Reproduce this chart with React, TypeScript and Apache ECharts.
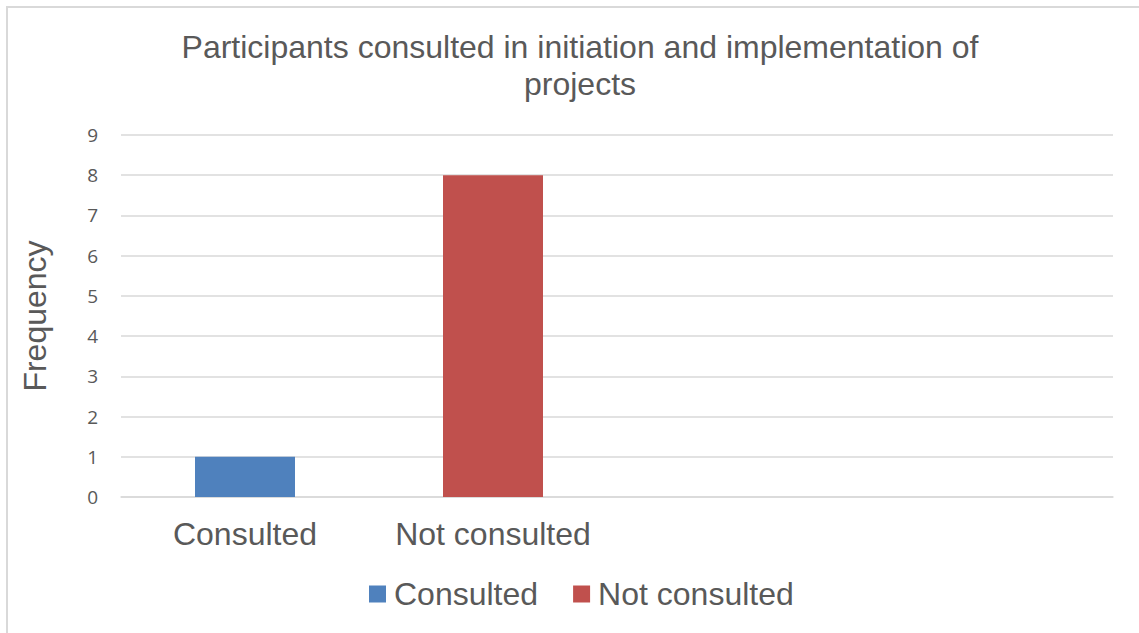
import React, { useEffect, useRef } from "react";
import * as echarts from "echarts";

const categories = ["Consulted", "Not consulted", "", ""];
const consultedValues = [1, null, null, null];
const notConsultedValues = [null, 8, null, null];
const yTicks = { min: 0, max: 9, interval: 1 };
const titleText = "Participants consulted in initiation and implementation of\nprojects";
const yAxisName = "Frequency";

const TEXT = "#595959";
const GRID = "#d9d9d9";
const FONT = "'Liberation Sans', Arial, sans-serif";

export default function App() {
  const ref = useRef<HTMLDivElement>(null);
  useEffect(() => {
    if (!ref.current) return;
    const chart = echarts.init(ref.current, null, { renderer: "svg" });
    chart.setOption({
      animation: false,
      backgroundColor: "#ffffff",
      title: {
        text: titleText,
        left: 575,
        top: 23,
        textAlign: "center",
        textStyle: {
          fontFamily: FONT,
          fontSize: 32,
          fontWeight: "normal",
          color: TEXT,
          lineHeight: 37,
        },
      },
      graphic: [
        {
          type: "rect",
          shape: { x: 7, y: 7, width: 1200, height: 700 },
          style: { fill: "none", stroke: GRID, lineWidth: 2 },
          silent: true,
        },
      ],
      legend: {
        left: 369,
        top: 578,
        padding: 0,
        itemWidth: 17,
        itemHeight: 17,
        itemGap: 35,
        icon: "rect",
        textStyle: {
          fontFamily: FONT,
          fontSize: 32,
          color: TEXT,
          padding: [0, 0, 0, 3],
        },
        data: ["Consulted", "Not consulted"],
      },
      grid: { left: 121, right: 26, top: 135, bottom: 136 },
      xAxis: {
        type: "category",
        data: categories,
        axisLine: { show: true, lineStyle: { color: GRID, width: 1.5 } },
        axisTick: { show: false },
        axisLabel: {
          fontFamily: FONT,
          fontSize: 32,
          color: TEXT,
          margin: 21,
          interval: 0,
        },
      },
      yAxis: {
        type: "value",
        min: yTicks.min,
        max: yTicks.max,
        interval: yTicks.interval,
        name: yAxisName,
        nameLocation: "middle",
        nameRotate: 90,
        nameGap: 70,
        nameTextStyle: { fontFamily: FONT, fontSize: 32, color: TEXT },
        axisLine: { show: false },
        axisTick: { show: false },
        axisLabel: {
          fontFamily: "'Open Sans', sans-serif",
          fontSize: 19,
          color: TEXT,
          margin: 23,
        },
        splitLine: { lineStyle: { color: GRID, width: 1.5 } },
      },
      series: [
        {
          name: "Consulted",
          type: "bar",
          stack: "all",
          barWidth: 100,
          data: consultedValues,
          itemStyle: { color: "#4f81bd" },
        },
        {
          name: "Not consulted",
          type: "bar",
          stack: "all",
          barWidth: 100,
          data: notConsultedValues,
          itemStyle: { color: "#c0504d" },
        },
      ],
    });
    return () => chart.dispose();
  }, []);
  return (
    <div
      ref={ref}
      style={{ position: "absolute", left: 0, top: 0, width: 1139, height: 633 }}
    />
  );
}
